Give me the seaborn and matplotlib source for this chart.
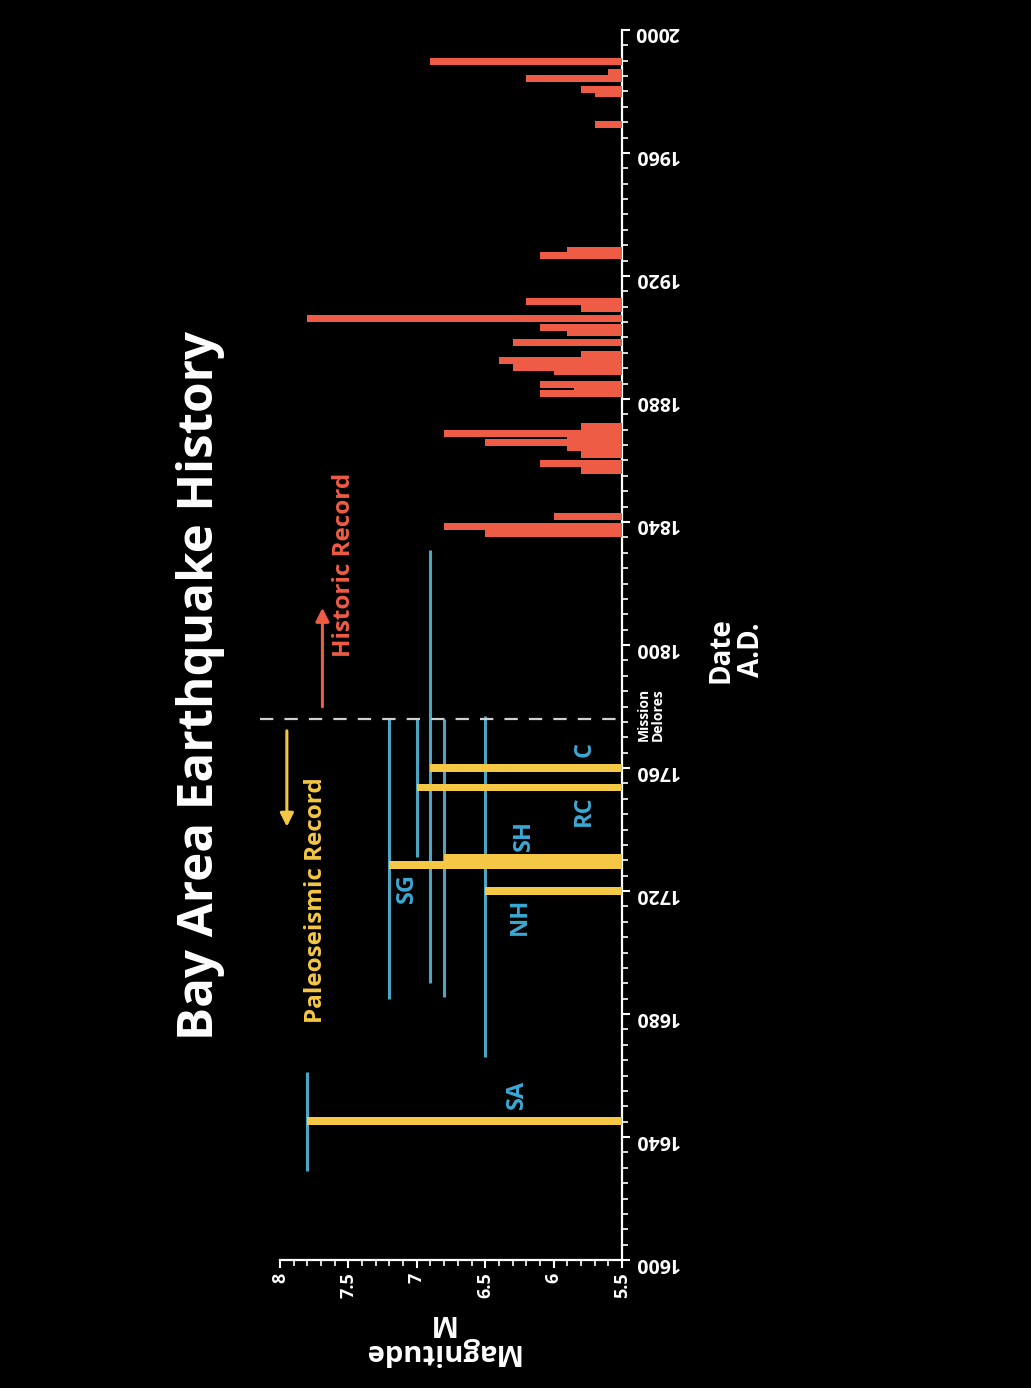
import numpy as np
import pandas as pd
import matplotlib
matplotlib.use("Agg")
import matplotlib.pyplot as plt
import seaborn as sns
from matplotlib.ticker import MultipleLocator

# historic record (red bars)
red_years = [1836.4, 1838.6, 1841.8, 1856.6, 1858.9, 1861.8, 1864.2, 1865.8, 1867.4,
             1868.8, 1871.0, 1881.8, 1883.2, 1884.6, 1888.8, 1890.3, 1892.6, 1894.6,
             1898.4, 1901.6, 1903.4, 1906.3, 1909.6, 1911.6, 1926.8, 1928.4, 1969.4,
             1979.2, 1980.6, 1984.3, 1986.3, 1989.8]
red_mags = [6.5, 6.8, 6.0, 5.8, 6.1, 5.8, 5.9, 6.5, 5.9,
            6.8, 5.8, 6.1, 5.85, 6.1, 6.0, 6.3, 6.4, 5.8,
            6.3, 5.9, 6.1, 7.8, 5.8, 6.2, 6.1, 5.9, 5.7,
            5.7, 5.8, 6.2, 5.6, 6.9]

# paleoseismic record (yellow bars + blue date ranges)
paleo_names = ["SA", "NH", "SG", "SH", "RC", "C"]
paleo_years = [1645.3, 1720.1, 1728.5, 1730.9, 1753.7, 1760.1]
paleo_mags = [7.8, 6.5, 7.2, 6.8, 7.0, 6.9]
range_start = [1629, 1666, 1685, 1685.5, 1731, 1690]
range_end = [1661, 1777, 1776, 1776, 1776, 1831]

# label positions (magnitude, year) for the fault names
name_mags = [6.27, 6.25, 7.07, 6.22, 5.78, 5.77]
name_years = [1653.7, 1711.9, 1721.0, 1738.2, 1746.0, 1765.9]

year_ticks = [1600, 1640, 1680, 1720, 1760, 1800, 1840, 1880, 1920, 1960, 2000]
mag_ticks = [8, 7.5, 7, 6.5, 6, 5.5]
mag_labels = ["8", "7.5", "7", "6.5", "6", "5.5"]
mission_year = 1776

RED = "#ef5c46"
YELLOW = "#f4c844"
BLUE_LINE = "#4aa6c2"
BLUE_TEXT = "#3ba8d4"

sns.set_theme(style="dark", rc={"axes.facecolor": "black", "figure.facecolor": "black",
                                "axes.grid": False})
plt.rcParams["font.family"] = ["Open Sans", "DejaVu Sans"]

df_red = pd.DataFrame({"year": red_years, "mag": red_mags})
df_paleo = pd.DataFrame({"name": paleo_names, "year": paleo_years, "mag": paleo_mags,
                         "start": range_start, "end": range_end})

fig = plt.figure(figsize=(10.31, 13.88), dpi=100)
ax = fig.add_axes([0.2716, 0.0922, 0.3317, 0.8862])

# blue date ranges
ax.vlines(df_paleo["mag"], df_paleo["start"], df_paleo["end"], color=BLUE_LINE, lw=2.2, zorder=2)

# bars grow from 5.5 towards bigger magnitudes (leftwards)
ax.barh(df_red["year"], df_red["mag"] - 5.5, left=5.5, height=2.3, color=RED,
        edgecolor="none", linewidth=0, zorder=3)
ax.barh(df_paleo["year"], df_paleo["mag"] - 5.5, left=5.5, height=2.5, color=YELLOW,
        edgecolor="none", linewidth=0, zorder=3)

# Mission Dolores divider
ax.plot([8.15, 5.5], [mission_year, mission_year], color="#d0d0d0", lw=1.6,
        dashes=(6, 5), clip_on=False, zorder=4)

for name, m, y in zip(paleo_names, name_mags, name_years):
    ax.text(m, y, name, color=BLUE_TEXT, fontsize=17, fontweight="bold",
            rotation=90, ha="center", va="center")

ax.text(7.74, 1717, "Paleoseismic Record", color=YELLOW, fontsize=17.5, fontweight="bold",
        rotation=90, ha="center", va="center")
ax.text(7.53, 1826, "Historic Record", color=RED, fontsize=17.5, fontweight="bold",
        rotation=90, ha="center", va="center")
ax.annotate("", xy=(7.95, 1740), xytext=(7.95, 1773),
            arrowprops=dict(arrowstyle="-|>", color=YELLOW, lw=2.2, mutation_scale=20))
ax.annotate("", xy=(7.69, 1813), xytext=(7.69, 1779),
            arrowprops=dict(arrowstyle="-|>", color=RED, lw=2.2, mutation_scale=20))
ax.text(5.29, 1777.5, "Mission\nDelores", color="white", fontsize=10, fontweight="bold",
        rotation=90, ha="center", va="center", linespacing=1.05)

# axes
ax.set_xlim(8, 5.5)
ax.set_ylim(1600, 2000)
sns.despine(ax=ax, left=True, top=True, right=False, bottom=False)
for s in ["right", "bottom"]:
    ax.spines[s].set_color("white")
    ax.spines[s].set_linewidth(1.6)

ax.yaxis.tick_right()
ax.set_yticks(year_ticks)
ax.set_yticklabels([str(y) for y in year_ticks])
ax.yaxis.set_minor_locator(MultipleLocator(5))
ax.set_xticks(mag_ticks)
ax.set_xticklabels(mag_labels)
ax.xaxis.set_minor_locator(MultipleLocator(0.1))

ax.tick_params(axis="y", which="major", colors="white", direction="out", length=6,
               width=1.5, labelsize=14, labelrotation=180, pad=3, right=True, left=False)
ax.tick_params(axis="y", which="minor", colors="white", direction="out", length=4,
               width=1.2, right=True, left=False)
ax.tick_params(axis="x", which="major", colors="white", direction="out", length=6,
               width=1.5, labelsize=13, labelrotation=90, pad=3, bottom=True)
ax.tick_params(axis="x", which="minor", colors="white", direction="out", length=4,
               width=1.2, bottom=True)
for lab in ax.get_yticklabels() + ax.get_xticklabels():
    lab.set_fontweight("bold")

ax.set_xlabel("")
ax.set_ylabel("")

fig.text(0.194, 0.506, "Bay Area Earthquake History", color="white", fontsize=35.5,
         fontweight="bold", rotation=90, ha="center", va="center")
fig.text(0.714, 0.532, "Date\nA.D.", color="white", fontsize=20, fontweight="bold",
         rotation=90, ha="center", va="center", linespacing=1.1)
fig.text(0.4275, 0.0367, "Magnitude\nM", color="white", fontsize=21, fontweight="bold",
         rotation=180, ha="center", va="center", linespacing=1.0)

fig.savefig("out.png", dpi=100, facecolor="black")
